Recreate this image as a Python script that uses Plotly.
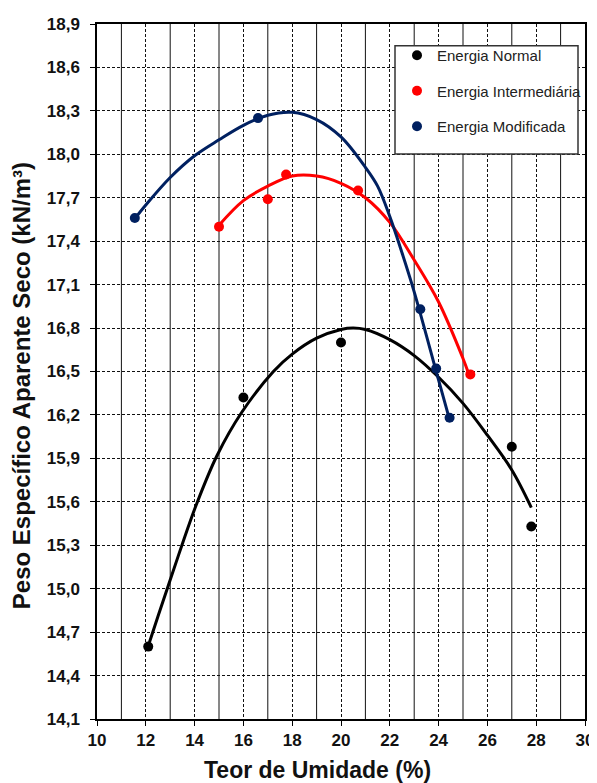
import plotly.graph_objects as go

# ---- data ----
normal_x = [12.1, 16.0, 20.0, 27.0, 27.8]
normal_y = [14.60, 16.32, 16.70, 15.98, 15.43]
inter_x = [15.0, 17.0, 17.75, 20.7, 25.3]
inter_y = [17.50, 17.69, 17.86, 17.75, 16.48]
mod_x = [11.55, 16.6, 23.25, 23.9, 24.45]
mod_y = [17.56, 18.25, 16.93, 16.52, 16.18]

# trend curves
normal_curve_x = [12.15, 12.5, 12.94, 13.48, 14.07, 14.92, 15.94, 17.23, 18, 19, 20, 20.5, 21, 22, 23, 24, 25, 26, 27, 27.8]
normal_curve_y = [14.63, 14.81, 15.03, 15.30, 15.58, 15.92, 16.22, 16.50, 16.62, 16.73, 16.79, 16.80, 16.79, 16.72, 16.61, 16.46, 16.28, 16.06, 15.82, 15.56]
inter_curve_x = [15.0, 16, 17, 18, 19, 20, 21, 22, 23, 24, 25, 25.2]
inter_curve_y = [17.51, 17.68, 17.78, 17.85, 17.85, 17.80, 17.70, 17.53, 17.27, 16.98, 16.59, 16.50]
mod_curve_x = [11.57, 12, 13, 14, 15, 16, 17, 18, 19, 20, 21, 21.5, 22, 22.5, 23, 24, 24.43]
mod_curve_y = [17.56, 17.65, 17.84, 17.99, 18.10, 18.20, 18.27, 18.29, 18.24, 18.12, 17.91, 17.78, 17.57, 17.32, 17.05, 16.44, 16.18]

series_names = ["Energia Normal", "Energia Intermediária", "Energia Modificada"]
series_colors = ["#000000", "#ff0000", "#002060"]

x_ticks = [10, 12, 14, 16, 18, 20, 22, 24, 26, 28, 30]
x_minor = [11, 13, 15, 17, 19, 21, 23, 25, 27, 29]
y_ticks = [14.1, 14.4, 14.7, 15.0, 15.3, 15.6, 15.9, 16.2, 16.5, 16.8, 17.1, 17.4, 17.7, 18.0, 18.3, 18.6, 18.9]
y_ticklabels = ["14,1", "14,4", "14,7", "15,0", "15,3", "15,6", "15,9", "16,2", "16,5", "16,8",
                "17,1", "17,4", "17,7", "18,0", "18,3", "18,6", "18,9"]

FONT = "Liberation Sans, Arial, sans-serif"
DASH = "3px,2px"

fig = go.Figure()

# solid vertical grid lines at the odd values
for xv in x_minor:
    fig.add_vline(x=xv, line=dict(color="#111", width=1), layer="below")

curves = [(normal_curve_x, normal_curve_y), (inter_curve_x, inter_curve_y), (mod_curve_x, mod_curve_y)]
points = [(normal_x, normal_y), (inter_x, inter_y), (mod_x, mod_y)]
for name, color, (cx, cy) in zip(series_names, series_colors, curves):
    fig.add_trace(go.Scatter(x=cx, y=cy, mode="lines", line=dict(color=color, width=3, shape="spline", smoothing=1.0),
                             showlegend=False, hoverinfo="skip", legendgroup=name))
for name, color, (px_, py_) in zip(series_names, series_colors, points):
    fig.add_trace(go.Scatter(x=px_, y=py_, mode="markers", name=name, legendgroup=name,
                             marker=dict(color=color, size=10)))

axis_common = dict(showline=True, linecolor="black", linewidth=1.5, mirror=True,
                   ticks="outside", ticklen=5, tickcolor="black", zeroline=False,
                   tickfont=dict(family=FONT, size=17, color="#111", weight="bold"))

fig.update_xaxes(range=[10, 30], tickmode="array", tickvals=x_ticks, showgrid=True, gridcolor="#111", gridwidth=1,
                 griddash=DASH, **axis_common)
fig.update_yaxes(range=[14.1, 18.9], tickmode="array", tickvals=y_ticks, ticktext=y_ticklabels, showgrid=True,
                 gridcolor="#111", gridwidth=1, griddash=DASH, ticklabelstandoff=7, **axis_common)

# page coordinates (the html body adds an 8px margin)
OFF = 8
W, H = 597 - OFF, 783 - OFF
x0p, x1p = 97 - OFF, 585 - OFF
y0p, y1p = 24 - OFF, 718.6 - OFF

def px2paper_x(p):
    return (p - OFF - x0p) / (x1p - x0p)

def px2paper_y(p):
    return 1 - (p - OFF - y0p) / (y1p - y0p)

fig.add_shape(type="rect", xref="paper", yref="paper",
              x0=px2paper_x(395), x1=px2paper_x(578), y0=px2paper_y(154), y1=px2paper_y(45.7),
              line=dict(color="#333", width=1.5), fillcolor="white", layer="above")

fig.update_layout(
    width=W, height=H,
    margin=dict(l=x0p, r=W - x1p, t=y0p, b=H - y1p, autoexpand=False),
    paper_bgcolor="white", plot_bgcolor="white",
    showlegend=True,
    legend=dict(x=px2paper_x(397), y=px2paper_y(39), xanchor="left", yanchor="top",
                bgcolor="rgba(0,0,0,0)", borderwidth=0, tracegroupgap=13,
                font=dict(family=FONT, size=15, color="#222")),
    annotations=[
        dict(text="Peso Específico Aparente Seco (kN/m³)", xref="paper", yref="paper",
             x=px2paper_x(21), y=px2paper_y(386), xanchor="center", yanchor="middle",
             textangle=-90, showarrow=False,
             font=dict(family=FONT, size=24, color="#111", weight="bold")),
        dict(text="Teor de Umidade (%)", xref="paper", yref="paper",
             x=px2paper_x(317), y=px2paper_y(770), xanchor="center", yanchor="middle",
             showarrow=False, font=dict(family=FONT, size=23, color="#111", weight="bold")),
    ],
)

fig.write_html("out.html")
